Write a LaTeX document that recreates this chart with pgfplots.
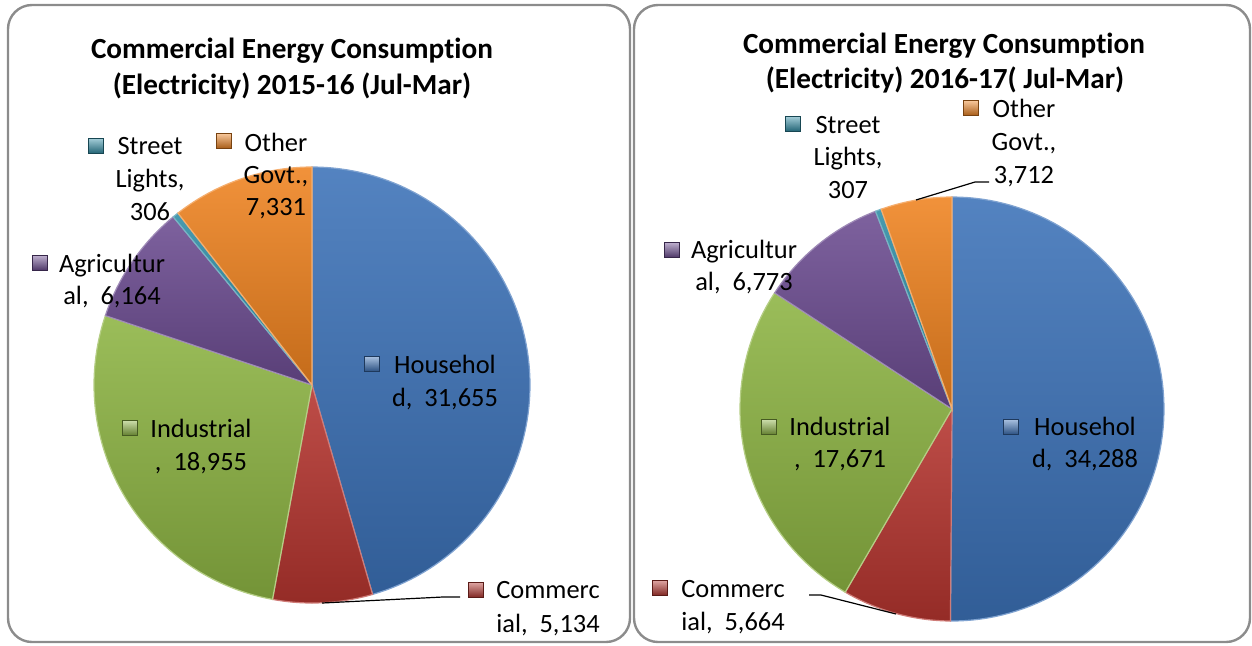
\documentclass[border=0pt]{standalone}
\usepackage{pgfplots}
\pgfplotsset{compat=1.18}
\usepackage{fontspec}
\setmainfont{Carlito}[Ligatures={NoCommon}]

\definecolor{cH}{HTML}{3C72B8}
\definecolor{cC}{HTML}{B5352F}
\definecolor{cI}{HTML}{8DB443}
\definecolor{cA}{HTML}{6C4C91}
\definecolor{cS}{HTML}{2F8DA5}
\definecolor{cO}{HTML}{EF8320}

% ---- data 2015-16 (Jul-Mar)
\def\LvH{31655}\def\LvC{5134}\def\LvI{18955}\def\LvA{6164}\def\LvS{306}\def\LvO{7331}
% ---- data 2016-17 (Jul-Mar)
\def\RvH{34288}\def\RvC{5664}\def\RvI{17671}\def\RvA{6773}\def\RvS{307}\def\RvO{3712}

\edef\LT{\fpeval{\LvH+\LvC+\LvI+\LvA+\LvS+\LvO}}
\edef\pLa{90}
\edef\pLb{\fpeval{\pLa-360*\LvH/\LT}}
\edef\pLc{\fpeval{\pLb-360*\LvC/\LT}}
\edef\pLd{\fpeval{\pLc-360*\LvI/\LT}}
\edef\pLe{\fpeval{\pLd-360*\LvA/\LT}}
\edef\pLf{\fpeval{\pLe-360*\LvS/\LT}}
\edef\pLg{\fpeval{\pLf-360*\LvO/\LT}}

\edef\RT{\fpeval{\RvH+\RvC+\RvI+\RvA+\RvS+\RvO}}
\edef\pRa{90}
\edef\pRb{\fpeval{\pRa-360*\RvH/\RT}}
\edef\pRc{\fpeval{\pRb-360*\RvC/\RT}}
\edef\pRd{\fpeval{\pRc-360*\RvI/\RT}}
\edef\pRe{\fpeval{\pRd-360*\RvA/\RT}}
\edef\pRf{\fpeval{\pRe-360*\RvS/\RT}}
\edef\pRg{\fpeval{\pRf-360*\RvO/\RT}}

% slice: color, from, to, cx, cy, r
\newcommand\pieslice[6]{%
  \addplot[top color=#1!88!white, bottom color=#1!82!black, draw=#1!65!white, line width=0.6pt,
           domain=#3:#2, samples=90, variable=\t]
    ({#4+#6*cos(\t)},{#5+#6*sin(\t)}) -- (axis cs:#4,#5) -- cycle;
}
\newcommand\lkey[3]{% color, cx, cy (pixels, y down)
  \draw[top color=#1!45!white, bottom color=#1!70!black, draw=#1!50!black, line width=0.4pt]
    (axis cs:#2-7.5,-#3+7.5) rectangle (axis cs:#2+7.5,-#3-7.5);
}
\newcommand\lab[3]{% x, baseline y, text
  \node[anchor=base, inner sep=0pt, font=\fontsize{13.2}{15}\selectfont] at (axis cs:#1,-#2) {#3};
}
\newcommand\ttl[3]{%
  \node[anchor=base, inner sep=0pt, font=\bfseries\fontsize{14.6}{17}\selectfont] at (axis cs:#1,-#2) {#3};
}

\begin{document}
\begin{tikzpicture}
\begin{axis}[
  x=0.5pt, y=0.5pt,
  xmin=0, xmax=1252, ymin=-645, ymax=0,
  hide axis, clip=false,
]
\path (axis cs:0,0) rectangle (axis cs:1252,-645);
% frames
\draw[black!45, line width=1.2pt, rounded corners=12pt] (axis cs:8,-5) rectangle (axis cs:630,-642);
\draw[black!45, line width=1.2pt, rounded corners=12pt] (axis cs:634,-5) rectangle (axis cs:1250,-642);

% ---- left pie
\pieslice{cH}{\pLa}{\pLb}{312}{-385}{218}
\pieslice{cC}{\pLb}{\pLc}{312}{-385}{218}
\pieslice{cI}{\pLc}{\pLd}{312}{-385}{218}
\pieslice{cA}{\pLd}{\pLe}{312}{-385}{218}
\pieslice{cS}{\pLe}{\pLf}{312}{-385}{218}
\pieslice{cO}{\pLf}{\pLg}{312}{-385}{218}

% ---- right pie
\pieslice{cH}{\pRa}{\pRb}{952}{-409}{212}
\pieslice{cC}{\pRb}{\pRc}{952}{-409}{212}
\pieslice{cI}{\pRc}{\pRd}{952}{-409}{212}
\pieslice{cA}{\pRd}{\pRe}{952}{-409}{212}
\pieslice{cS}{\pRe}{\pRf}{952}{-409}{212}
\pieslice{cO}{\pRf}{\pRg}{952}{-409}{212}

% titles
\ttl{292}{58}{Commercial Energy Consumption}
\ttl{292}{94}{(Electricity) 2015-16 (Jul-Mar)}
\ttl{944}{53}{Commercial Energy Consumption}
\ttl{945}{88}{(Electricity) 2016-17( Jul-Mar)}

% left labels
\lkey{cS}{96}{146}
\lab{150}{154}{Street}\lab{150}{187}{Lights,}\lab{150}{220}{306}
\lkey{cO}{224}{141}
\lab{276}{151}{Other}\lab{276}{183}{Govt.,}\lab{276}{215}{7,331}
\lkey{cA}{40}{263}
\lab{112}{272}{Agricultur}\lab{112}{304}{al,\ \ 6,164}
\lkey{cH}{372}{364}
\lab{445}{373}{Househol}\lab{445}{406}{d,\ \ 31,655}
\lkey{cI}{130}{428}
\lab{201}{437}{Industrial}\lab{201}{470}{,\ \ 18,955}
\lkey{cC}{476}{590}
\lab{548}{598}{Commerc}\lab{548}{632}{ial,\ \ 5,134}
\draw[black, line width=0.6pt] (axis cs:460,-597) -- (axis cs:443,-597) -- (axis cs:322,-603);

% right labels
\lkey{cS}{793}{124}
\lab{848}{133}{Street}\lab{848}{165}{Lights,}\lab{848}{198}{307}
\lkey{cO}{971}{108}
\lab{1024}{117}{Other}\lab{1024}{150}{Govt.,}\lab{1024}{183}{3,712}
\draw[black, line width=0.6pt] (axis cs:989,-182) -- (axis cs:975,-182) -- (axis cs:916,-200);
\lkey{cA}{672}{250}
\lab{744}{258}{Agricultur}\lab{744}{290}{al,\ \ 6,773}
\lkey{cH}{1011}{427}
\lab{1085}{435}{Househol}\lab{1085}{467}{d,\ \ 34,288}
\lkey{cI}{769}{427}
\lab{840}{435}{Industrial}\lab{840}{467}{,\ \ 17,671}
\lkey{cC}{660}{588}
\lab{733}{597}{Commerc}\lab{733}{630}{ial,\ \ 5,664}
\draw[black, line width=0.6pt] (axis cs:809,-595) -- (axis cs:821,-595) -- (axis cs:896,-614);
\end{axis}
\end{tikzpicture}
\end{document}
